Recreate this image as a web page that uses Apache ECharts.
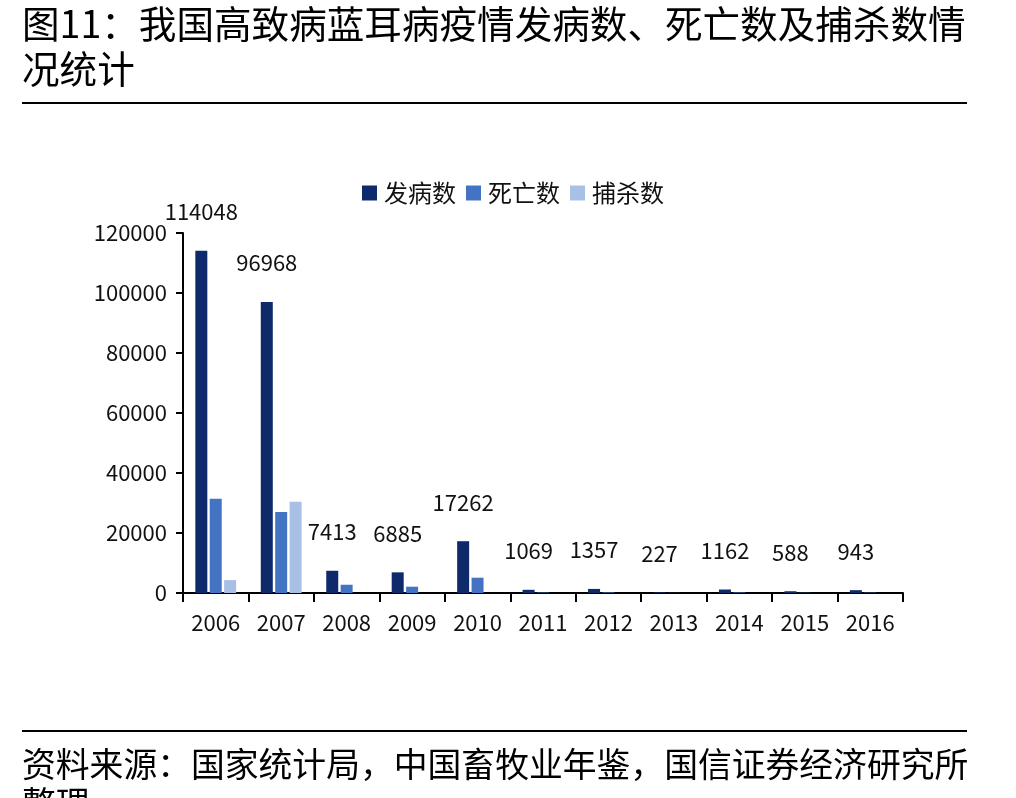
<!DOCTYPE html>
<html>
<head>
<meta charset="utf-8">
<script src="https://cdn.jsdelivr.net/npm/echarts@6/dist/echarts.min.js"></script>
<style>
  html, body { margin: 0; padding: 0; background: #fff; }
  #chart { width: 1016px; height: 798px; }
</style>
</head>
<body>
<div id="chart"></div>
<script>
  // 年份
  var years = ['2006', '2007', '2008', '2009', '2010', '2011', '2012', '2013', '2014', '2015', '2016'];
  // 发病数
  var incidence = [114048, 96968, 7413, 6885, 17262, 1069, 1357, 227, 1162, 588, 943];
  // 死亡数（图上估读）
  var deaths = [31400, 27000, 2750, 2100, 5100, 150, 200, 40, 180, 80, 120];
  // 捕杀数（图上估读）
  var culled = [4300, 30400, 0, 0, 0, 0, 0, 0, 0, 0, 0];

  var font = '"Noto Sans CJK SC", "Noto Sans", sans-serif';
  var chart = echarts.init(document.getElementById('chart'));

  var option = {
    backgroundColor: '#fff',
    textStyle: { fontFamily: font },
    animation: false,
    graphic: [
      { type: 'text', left: 22, top: 5, style: { text: '图11：我国高致病蓝耳病疫情发病数、死亡数及捕杀数情', font: '37.6px ' + font, fill: '#000' } },
      { type: 'text', left: 22, top: 50, style: { text: '况统计', font: '37.6px ' + font, fill: '#000' } },
      { type: 'rect', shape: { x: 22, y: 102, width: 945, height: 2 }, style: { fill: '#000' } },
      { type: 'rect', shape: { x: 22, y: 730, width: 945, height: 2 }, style: { fill: '#000' } },
      { type: 'text', left: 22, top: 747, style: { text: '资料来源：国家统计局，中国畜牧业年鉴，国信证券经济研究所', font: '33.8px ' + font, fill: '#000' } },
      { type: 'text', left: 22, top: 786, style: { text: '整理', font: '33.8px ' + font, fill: '#000' } }
    ],
    legend: {
      top: 176,
      left: 357,
      icon: 'rect',
      itemWidth: 15,
      itemHeight: 15,
      itemGap: 10,
      textStyle: { fontSize: 24, color: '#111', fontFamily: font, padding: [0, 0, 0, 2] },
      data: ['发病数', '死亡数', '捕杀数']
    },
    grid: { left: 183, right: 113, top: 233, bottom: 205, containLabel: false },
    xAxis: {
      type: 'category',
      data: years,
      axisLine: { lineStyle: { color: '#000', width: 2 } },
      axisTick: { show: true, length: 9, lineStyle: { color: '#000', width: 2 } },
      axisLabel: { fontSize: 22, color: '#111', margin: 19 }
    },
    yAxis: {
      type: 'value',
      min: 0,
      max: 120000,
      interval: 20000,
      axisLine: { show: true, lineStyle: { color: '#000', width: 2 } },
      axisTick: { show: true, length: 7, lineStyle: { color: '#000', width: 2 } },
      axisLabel: { fontSize: 22, color: '#111', margin: 16, formatter: function (v) { return String(v); } },
      splitLine: { show: false }
    },
    series: [
      {
        name: '发病数',
        type: 'bar',
        data: incidence,
        barWidth: 12,
        barGap: '20%',
        itemStyle: { color: '#0f2a6a' },
        label: { show: true, position: 'top', distance: 28, fontSize: 22, color: '#111', fontFamily: font }
      },
      {
        name: '死亡数',
        type: 'bar',
        data: deaths,
        barWidth: 12,
        barGap: '20%',
        itemStyle: { color: '#4573c4' }
      },
      {
        name: '捕杀数',
        type: 'bar',
        data: culled,
        barWidth: 12,
        barGap: '20%',
        itemStyle: { color: '#a8c0e6' }
      }
    ]
  };

  chart.setOption(option);
</script>
</body>
</html>
